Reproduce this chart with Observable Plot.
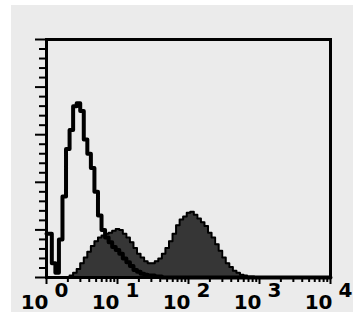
<!DOCTYPE html>
<html>
<head>
<meta charset="utf-8">
<script src="https://cdn.jsdelivr.net/npm/d3@7"></script>
<script src="https://cdn.jsdelivr.net/npm/@observablehq/plot@0.6"></script>
<style>
  html, body { margin: 0; padding: 0; background: #ffffff; width: 353px; height: 312px; overflow: hidden; }
  #chart { position: absolute; left: 11px; top: 5px; }
  #chart svg { display: block; }
</style>
</head>
<body>
<div id="chart"></div>
<script>
// channel bins (log10 of fluorescence), 0.05 decade wide
const binExp = [0.00,0.05,0.10,0.15,0.20,0.25,0.30,0.35,0.40,0.45,
                0.50,0.55,0.60,0.65,0.70,0.75,0.80,0.85,0.90,0.95,
                1.00,1.05,1.10,1.15,1.20,1.25,1.30,1.35,1.40,1.45,
                1.50,1.55,1.60,1.65,1.70,1.75,1.80,1.85,1.90,1.95,
                2.00,2.05,2.10,2.15,2.20,2.25,2.30,2.35,2.40,2.45,
                2.50,2.55,2.60,2.65,2.70,2.75,2.80,2.85,2.90,2.95,
                3.00,4.00];
// open (control) histogram
const openCounts = [46,46,15,5,40,85,135,155,180,183,
                    175,145,130,115,90,65,50,42,37,32,
                    29,25,20,16,12,8,6,4,3,2,
                    2,1,1,0,0,0,0,0,0,0,
                    0,0,0,0,0,0,0,0,0,0,
                    0,0,0,0,0,0,0,0,0,0,
                    0,0];
// filled (stained) histogram
const filledCounts = [0,0,0,0,0,0,0,2,5,9,
                      15,21,27,33,38,42,44,46,47,49,
                      51,50,46,42,37,31,25,21,17,15,
                      15,17,20,25,31,38,46,55,61,64,
                      68,69,66,62,58,54,47,42,35,28,
                      21,15,11,7,5,3,2,1,1,0,
                      0,0];
const xMajor = [1, 10, 100, 1000, 10000];
const xExponents = ["0", "1", "2", "3", "4"];
const xMinor = [2,3,4,5,6,7,8,9,20,30,40,50,60,70,80,90,200,300,400,500,600,700,800,900,2000,3000,4000,5000,6000,7000,8000,9000];
const yMajor = [0, 50, 100, 150, 200, 250];
const yMinor = [10,20,30,40,60,70,80,90,110,120,130,140,160,170,180,190,210,220,230,240];

const data = binExp.map((e, i) => ({x: Math.pow(10, e), open: openCounts[i], filled: filledCounts[i]}));
const labels = xMajor.map((v, i) => ({v, e: xExponents[i]}));

const chart = Plot.plot({
  width: 342,
  height: 307,
  marginLeft: 35,
  marginRight: 23,
  marginTop: 34,
  marginBottom: 35,
  style: {background: "#ebebeb", overflow: "visible", fontFamily: "DejaVu Sans, sans-serif"},
  x: {type: "log", domain: [1, 10000]},
  y: {domain: [0, 250]},
  marks: [
    Plot.areaY(data, {x: "x", y: "filled", curve: "step", fill: "#363636"}),
    Plot.lineY(data, {x: "x", y: "filled", curve: "step", stroke: "#000", strokeWidth: 2}),
    Plot.lineY(data, {x: "x", y: "open", curve: "step", stroke: "#000", strokeWidth: 4}),
    Plot.axisY(yMajor, {tickSize: 11, strokeWidth: 2, stroke: "#000", tickFormat: () => ""}),
    Plot.axisY(yMinor, {tickSize: 7, strokeWidth: 2, stroke: "#000", tickFormat: () => ""}),
    Plot.axisX(xMajor, {tickSize: 7, strokeWidth: 2, stroke: "#000", tickFormat: () => ""}),
    Plot.axisX(xMinor, {tickSize: 5, strokeWidth: 2, stroke: "#000", tickFormat: () => ""}),
    Plot.frame({stroke: "#000", strokeWidth: 3}),
    Plot.text(labels, {x: "v", text: () => "10", frameAnchor: "bottom", textAnchor: "end", lineAnchor: "bottom", dy: 31, dx: 2, fontSize: 20, fontWeight: "bold", fill: "#000"}),
    Plot.text(labels, {x: "v", text: "e", frameAnchor: "bottom", textAnchor: "start", lineAnchor: "bottom", dy: 19, dx: 8, fontSize: 20, fontWeight: "bold", fill: "#000"})
  ]
});
document.getElementById("chart").appendChild(chart);
</script>
</body>
</html>
